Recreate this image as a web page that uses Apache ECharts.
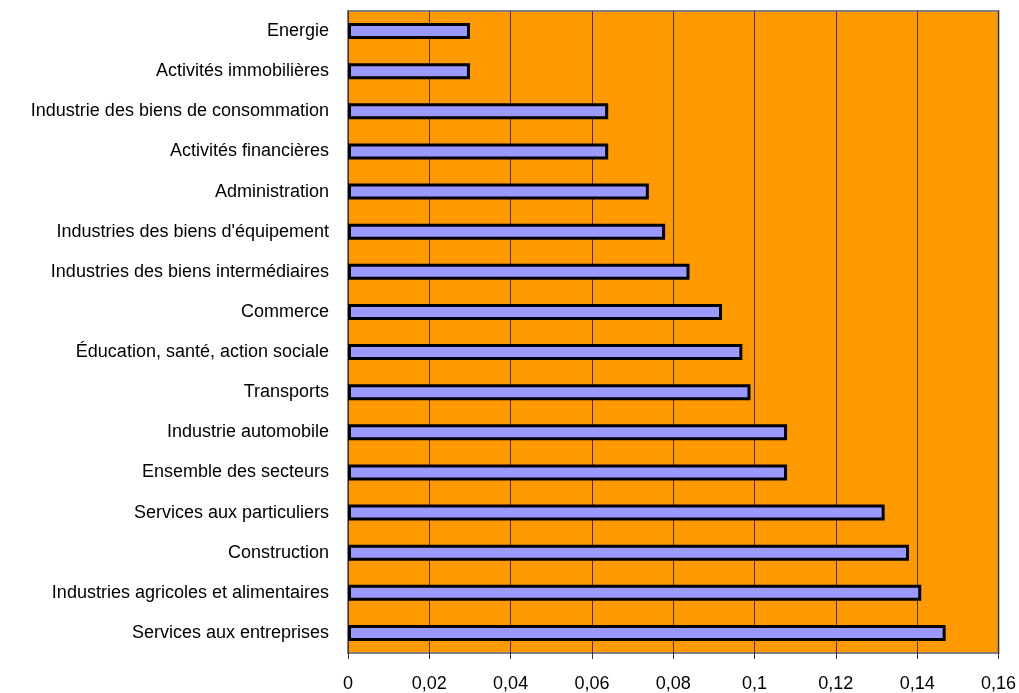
<!DOCTYPE html>
<html>
<head>
<meta charset="utf-8">
<script src="https://cdn.jsdelivr.net/npm/echarts@6/dist/echarts.min.js"></script>
<style>
  html, body { margin: 0; padding: 0; background: #fff; }
  #chart { width: 1019px; height: 693px; }
</style>
</head>
<body>
<div id="chart"></div>
<script>
// Sectors, listed from top to bottom of the chart
const sectors = [
  'Energie',
  'Activités immobilières',
  'Industrie des biens de consommation',
  'Activités financières',
  'Administration',
  "Industries des biens d'équipement",
  'Industries des biens intermédiaires',
  'Commerce',
  'Éducation, santé, action sociale',
  'Transports',
  'Industrie automobile',
  'Ensemble des secteurs',
  'Services aux particuliers',
  'Construction',
  'Industries agricoles et alimentaires',
  'Services aux entreprises'
];

// Value per sector, same order
const values = [
  0.030, 0.030, 0.064, 0.064, 0.074, 0.078, 0.084, 0.092,
  0.097, 0.099, 0.108, 0.108, 0.132, 0.138, 0.141, 0.147
];

// Value axis range
const axisMin = 0;
const axisMax = 0.16;
const axisStep = 0.02;

const fontFamily = '"Liberation Sans", Arial, sans-serif';

const chart = echarts.init(document.getElementById('chart'), null, { renderer: 'canvas' });

chart.setOption({
  animation: false,
  backgroundColor: '#ffffff',
  grid: {
    left: 348,
    right: 19,
    top: 11,
    bottom: 38,
    show: true,
    backgroundColor: '#FF9900',
    borderColor: '#808080',
    borderWidth: 2
  },
  xAxis: {
    type: 'value',
    min: axisMin,
    max: axisMax,
    interval: axisStep,
    axisLine: { show: false },
    axisTick: { show: true, length: 6, lineStyle: { color: '#333', width: 1 } },
    splitLine: { show: true, lineStyle: { color: '#4a3000', width: 1 } },
    axisLabel: {
      color: '#000',
      fontFamily: fontFamily,
      fontSize: 18,
      margin: 22,
      formatter: v => String(+v.toFixed(2)).replace('.', ',')
    }
  },
  yAxis: {
    type: 'category',
    data: sectors,
    inverse: true,
    axisLine: { show: false },
    axisTick: { show: false },
    splitLine: { show: false },
    axisLabel: {
      color: '#000',
      fontFamily: fontFamily,
      fontSize: 18,
      margin: 19,
      padding: [3, 0, 0, 0]
    }
  },
  series: [{
    type: 'bar',
    data: values,
    barWidth: 16,
    itemStyle: {
      color: '#9999FF',
      borderColor: '#000',
      borderWidth: 3
    }
  }]
});
</script>
</body>
</html>
